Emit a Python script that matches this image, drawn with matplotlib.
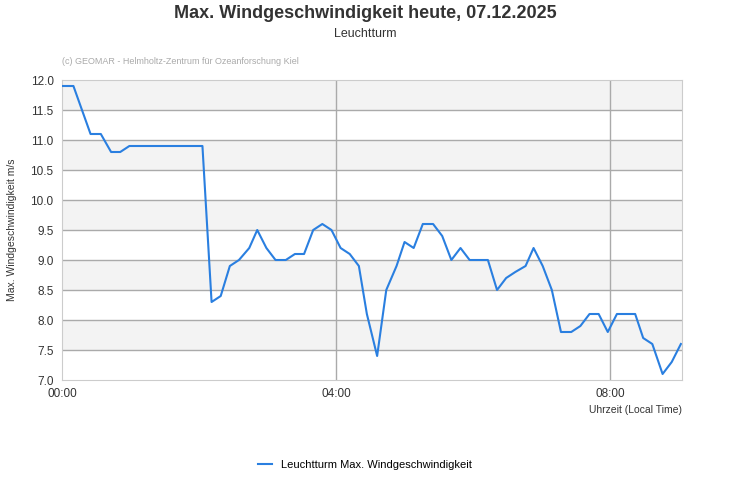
import matplotlib
matplotlib.use("Agg")
import matplotlib.pyplot as plt
import numpy as np

plt.rcParams['font.family'] = ['Liberation Sans', 'DejaVu Sans']

minutes = [0,10,25,34,43,51,59,123,131,139,147,155,164,171,179,187,196,204,212,220,228,236,244,252,260,267,276,284,293,300,308,316,325,333,341,349,357,373,381,389,397,406,413,421,429,437,446,454,462,470,478,486,494,502,509,517,526,534,542]
speed = [11.9,11.9,11.1,11.1,10.8,10.8,10.9,10.9,8.3,8.4,8.9,9.0,9.2,9.5,9.2,9.0,9.0,9.1,9.1,9.5,9.6,9.5,9.2,9.1,8.9,8.1,7.4,8.5,8.9,9.3,9.2,9.6,9.6,9.4,9.0,9.2,9.0,9.0,8.5,8.7,8.8,8.9,9.2,8.9,8.5,7.8,7.8,7.9,8.1,8.1,7.8,8.1,8.1,8.1,7.7,7.6,7.1,7.3,7.6]
xticks = [0, 240, 480]
xticklabels = ['00:00', '04:00', '08:00']
yticks = [7.0,7.5,8.0,8.5,9.0,9.5,10.0,10.5,11.0,11.5,12.0]

W, H = 731, 500
fig = plt.figure(figsize=(W/100, H/100), dpi=100)
ax = fig.add_axes([62/W, 1-380/H, 620/W, 300/H])
for lo in [7.5, 8.5, 9.5, 10.5, 11.5]:
    ax.axhspan(lo, lo+0.5, color='#f3f3f3', zorder=0, lw=0)
for y in yticks[1:-1]:
    ax.axhline(y, color='#aaaaaa', lw=1, zorder=1)
for x in xticks[1:]:
    ax.axvline(x, color='#aaaaaa', lw=1, zorder=1)
ax.plot(minutes, speed, color='#2a7fe0', lw=1.5, zorder=3, label='Leuchtturm Max. Windgeschwindigkeit')
ax.set_xlim(0, 543)
ax.set_ylim(7, 12)
ax.set_yticks(yticks)
ax.set_yticklabels([f'{v:.1f}' for v in yticks])
ax.set_xticks(xticks)
ax.set_xticklabels(xticklabels)
ax.tick_params(axis='y', length=0, labelsize=8.5, colors='#333333', pad=6)
ax.tick_params(axis='x', length=0, labelsize=8.5, colors='#333333', pad=6)
for s in ax.spines.values():
    s.set_color('#cccccc')
ax.set_ylabel('Max. Windgeschwindigkeit m/s', fontsize=7.5, color='#333333', labelpad=10)
fig.text(682/W, 1-410/H, 'Uhrzeit (Local Time)', ha='right', va='center', fontsize=7.5, color='#333333')
fig.text(365/W, 1-13/H, 'Max. Windgeschwindigkeit heute, 07.12.2025', ha='center', va='center', fontsize=13, fontweight='bold', color='#333333')
fig.text(365/W, 1-34/H, 'Leuchtturm', ha='center', va='center', fontsize=9, color='#333333')
fig.text(62/W, 1-61/H, '(c) GEOMAR - Helmholtz-Zentrum für Ozeanforschung Kiel', ha='left', va='center', fontsize=6.5, color='#aaaaaa')
fig.legend(loc='center', bbox_to_anchor=(365/W, 1-465/H), frameon=False, fontsize=8, handlelength=1.2)
fig.savefig('out.png', dpi=100)
